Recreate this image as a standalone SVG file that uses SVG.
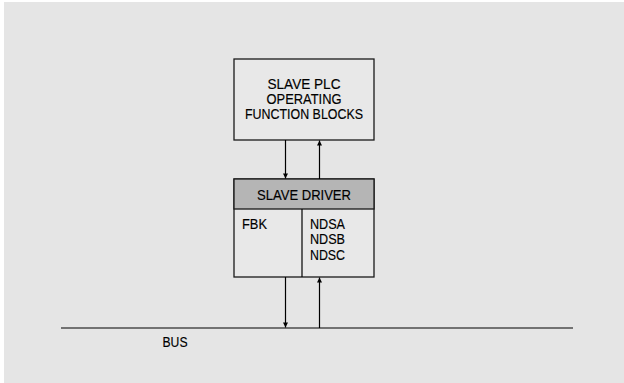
<svg xmlns="http://www.w3.org/2000/svg" width="624" height="383" viewBox="0 0 624 383">
<style>
.box{fill:#e8e8e8;stroke:#1a1a1a;stroke-width:1.3}
.hdr{fill:#b5b5b5;stroke:#1a1a1a;stroke-width:1.3}
.ln{stroke:#000;stroke-width:1.2;fill:none}
text{font-family:"Liberation Sans",Arial,sans-serif;font-size:14px;fill:#000;stroke:#000;stroke-width:0.15}
</style>
<defs>
<marker id="ah" viewBox="0 0 10 10" refX="10" refY="5" markerWidth="11" markerHeight="5" markerUnits="userSpaceOnUse" orient="auto">
<path d="M0,0 L10,5 L0,10 Z" fill="#000"/>
</marker>
</defs>
<rect x="0" y="0" width="624" height="383" fill="#ffffff"/>
<rect x="4" y="2" width="620" height="381" fill="#e5e5e5"/>
<g id="plc">
<rect class="box" x="234" y="59" width="140" height="81"/>
<text x="304" y="88.5" text-anchor="middle" textLength="73" lengthAdjust="spacingAndGlyphs">SLAVE PLC</text>
<text x="304" y="103.5" text-anchor="middle" textLength="75" lengthAdjust="spacingAndGlyphs">OPERATING</text>
<text x="304" y="118.5" text-anchor="middle" textLength="118" lengthAdjust="spacingAndGlyphs">FUNCTION BLOCKS</text>
</g>
<g id="driver">
<rect class="box" x="234" y="179" width="140" height="98"/>
<rect class="hdr" x="234" y="179" width="140" height="30"/>
<line class="ln" x1="302" y1="209" x2="302" y2="277"/>
<text x="304" y="200" text-anchor="middle" textLength="94" lengthAdjust="spacingAndGlyphs">SLAVE DRIVER</text>
<text x="242" y="228.5" textLength="25" lengthAdjust="spacingAndGlyphs">FBK</text>
<text x="310" y="228.5" textLength="35" lengthAdjust="spacingAndGlyphs">NDSA</text>
<text x="310" y="244" textLength="35" lengthAdjust="spacingAndGlyphs">NDSB</text>
<text x="310" y="259.5" textLength="35" lengthAdjust="spacingAndGlyphs">NDSC</text>
</g>
<g id="bus">
<line class="ln" x1="61" y1="328" x2="573" y2="328" stroke-width="1.5"/>
<text x="162.5" y="347" textLength="25" lengthAdjust="spacingAndGlyphs">BUS</text>
</g>
<g id="connectors">
<line class="ln" x1="285.5" y1="140" x2="285.5" y2="178.5" marker-end="url(#ah)"/>
<line class="ln" x1="319.5" y1="179" x2="319.5" y2="140.5" marker-end="url(#ah)"/>
<line class="ln" x1="285.5" y1="277" x2="285.5" y2="327.5" marker-end="url(#ah)"/>
<line class="ln" x1="319.5" y1="328" x2="319.5" y2="277.5" marker-end="url(#ah)"/>
</g>
</svg>
